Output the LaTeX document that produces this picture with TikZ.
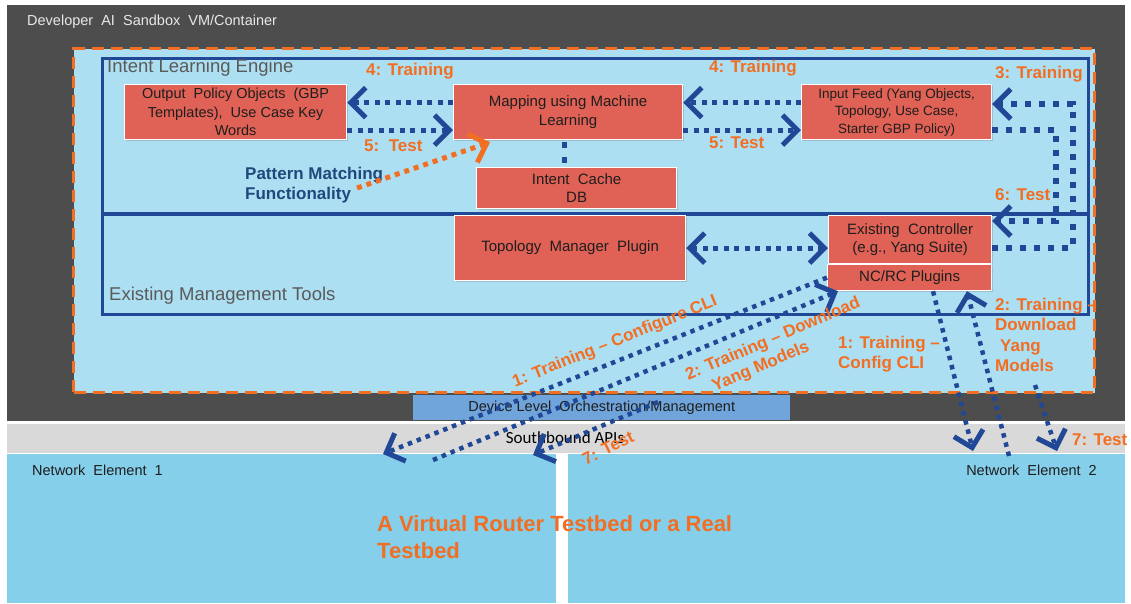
\documentclass[tikz,border=0pt]{standalone}
\usepackage{fontspec}
\setmainfont{Liberation Sans}
\newfontfamily\calfont{Carlito}
\usetikzlibrary{arrows.meta,shadows}
\definecolor{darkbg}{RGB}{77,77,77}
\definecolor{innerblue}{RGB}{173,223,242}
\definecolor{lineblue}{RGB}{33,72,150}
\definecolor{boxred}{RGB}{224,97,85}
\definecolor{orangec}{RGB}{242,110,34}
\definecolor{neblue}{RGB}{133,207,234}
\definecolor{sbgray}{RGB}{217,217,217}
\definecolor{devblue}{RGB}{112,165,220}
\definecolor{txt}{RGB}{30,30,30}
\definecolor{labgray}{RGB}{90,90,90}
\definecolor{titlegray}{RGB}{232,232,232}
\definecolor{pmblue}{RGB}{31,73,125}
\begin{document}
\begin{tikzpicture}[x=1pt,y=-1pt,
  chev/.tip={Straight Barb[length=15pt,width=30pt,line width=5pt]},
  redbox/.style={anchor=north west, fill=boxred, draw=white, line width=1.2pt, text=txt,
    align=center, inner sep=1pt, font=\fontsize{15}{18.5}\selectfont,
    drop shadow={shadow xshift=1.5pt,shadow yshift=-1.5pt,opacity=0.35}},
  container/.style={anchor=north west, draw=lineblue, line width=3pt, inner sep=0pt},
  plainbox/.style={anchor=north west, inner sep=0pt, text=txt},
  bdot/.style={draw=lineblue, line width=5pt, dash pattern=on 5pt off 5.5pt},
  ldot/.style={draw=lineblue, line width=6pt, dash pattern=on 6pt off 8pt},
  ddot/.style={draw=lineblue, line width=4.5pt, dash pattern=on 4.5pt off 5pt},
  odot/.style={draw=orangec, line width=5pt, dash pattern=on 5pt off 5pt},
  olabel/.style={text=orangec, inner sep=0pt, font=\bfseries\fontsize{17}{20.5}\selectfont},
  conlabel/.style={anchor=west, inner sep=0pt, text=labgray, font=\fontsize{18.5}{22}\selectfont},
  smalltext/.style={inner sep=0pt, text=txt, font=\fontsize{14.5}{17}\selectfont}
]
\useasboundingbox (0,0) rectangle (1131,603);
\fill[white] (0,0) rectangle (1131,603);
% background panels
\node[plainbox, fill=darkbg, minimum width=1118pt, minimum height=416pt] (sandbox) at (7,5) {};
\node[anchor=west, inner sep=0pt, text=titlegray, font=\fontsize{14.5}{17}\selectfont] (title) at (27,22) {Developer\ \ AI\ \ Sandbox\ \ VM/Container};
\node[plainbox, fill=innerblue, draw=orangec, line width=3pt, dash pattern=on 12pt off 7pt,
  minimum width=1021pt, minimum height=344pt] (dev) at (72,47) {};
\node[container, minimum width=986pt, minimum height=155pt] (ile) at (101,57) {};
\node[container, minimum width=986pt, minimum height=100pt] (emt) at (101,213) {};
\node[conlabel] (ilel) at (107,68) {Intent Learning Engine};
\node[conlabel] (emtl) at (109,296) {Existing Management Tools};
% lower strip
\node[plainbox, fill=devblue, minimum width=377pt, minimum height=25pt] (dlo) at (413,395) {};
\node[smalltext] (dlol) at (dlo.center) {Device Level\ \ Orchestration/Management};
\node[plainbox, fill=sbgray, minimum width=1118pt, minimum height=29pt] (sb) at (7,424) {};
\node[inner sep=0pt, text=black, font=\calfont\fontsize{17}{20}\selectfont] (sbl) at (565,438) {Southbound APIs};
\node[plainbox, fill=neblue, minimum width=549pt, minimum height=149pt] (ne1) at (7,454) {};
\node[plainbox, fill=neblue, minimum width=557pt, minimum height=149pt] (ne2) at (568,454) {};
\node[smalltext, anchor=west] (ne1l) at (32,470) {Network\ \ Element\ \ 1};
\node[smalltext, anchor=east] (ne2l) at (1097,470) {Network\ \ Element\ \ 2};
\node[anchor=west, align=left, inner sep=0pt, text=orangec, font=\bfseries\fontsize{22}{27}\selectfont] (tb) at (377,537) {A Virtual Router Testbed or a Real\\Testbed};
% red boxes
\node[redbox, font=\fontsize{14.5}{18.5}\selectfont, minimum width=222pt, minimum height=55pt] (out) at (124,84) {Output\ \ Policy Objects\ \ (GBP\\Templates),\ \ Use Case Key\\Words};
\node[redbox, minimum width=229pt, minimum height=55pt] (map) at (453,84) {Mapping using Machine\\Learning};
\node[redbox, minimum width=190pt, minimum height=55pt, font=\fontsize{13.5}{17.5}\selectfont] (inp) at (801,84) {Input Feed (Yang Objects,\\Topology, Use Case,\\Starter GBP Policy)};
\node[redbox, minimum width=200pt, minimum height=41pt] (cache) at (476,167) {Intent\ \ Cache\\DB};
\node[redbox, minimum width=231pt, minimum height=65pt] (topo) at (454,215) {Topology\ \ Manager\ \ Plugin};
\node[redbox, minimum width=163pt, minimum height=48pt] (ctrl) at (828,215) {Existing\ \ Controller\\(e.g., Yang Suite)};
\node[redbox, minimum width=164pt, minimum height=26pt] (ncrc) at (827,264) {NC/RC Plugins};
% pattern matching
\node[anchor=west, align=left, inner sep=0pt, text=pmblue, font=\bfseries\fontsize{17}{20.5}\selectfont] (pm) at (245,185) {Pattern Matching\\Functionality};
% arrows inside the engine
\draw[bdot, -chev] ([yshift=9.5pt]map.west) -- ([yshift=9.5pt]out.east);
\draw[bdot, -chev] ([yshift=-18pt]out.east) -- ([yshift=-18pt]map.west);
\draw[bdot, -chev] ([yshift=9.5pt]inp.west) -- ([yshift=9.5pt]map.east);
\draw[bdot, -chev] ([yshift=-18pt]map.east) -- ([yshift=-18pt]inp.west);
\draw[bdot, dash pattern=on 6pt off 9pt] ([xshift=-4pt,yshift=-2pt]map.south) -- ([xshift=-4pt]map.south |- cache.north);
\coordinate (pms) at (357,188);
\draw[odot, -chev] (pms) -- ([xshift=37pt,yshift=-2pt]map.south west);
\draw[bdot, chev-chev] (topo.east) -- (topo.east -| ctrl.west);
% loops
\coordinate (c3) at (1073,104);
\draw[ldot, -chev] ([yshift=-8pt]ctrl.east) -| (c3) -- (c3 -| inp.east);
\coordinate (c6) at (1056,221);
\draw[ldot, -chev] ([yshift=-18pt]inp.east) -| (c6) -- (c6 -| ctrl.east);
% diagonal arrows
\coordinate (t1) at (383,454);
\draw[ddot, -chev] (ncrc.west) -- (t1);
\coordinate (s2) at (433,460);
\draw[ddot, -chev] (s2) -- ([xshift=11pt]ncrc.south west);
\coordinate (s3) at (658,402);
\coordinate (t3) at (533,455);
\draw[ddot, -chev] (s3) -- (t3);
\coordinate (t4) at (973,451);
\draw[ddot, -chev] ([xshift=106pt]ncrc.south west) -- (t4);
\coordinate (s5) at (1009,456);
\draw[ddot, -chev] (s5) -- ([xshift=140pt]ncrc.south west);
\coordinate (s6) at (1035,385);
\coordinate (t6) at (1057,451);
\draw[ddot, -chev] (s6) -- (t6);
% orange labels
\node[olabel, anchor=west] (l4a) at (366,71) {4: Training};
\node[olabel, anchor=west] (l5a) at (364,146) {5:\ \ Test};
\node[olabel, anchor=west] (l4b) at (709,68) {4: Training};
\node[olabel, anchor=west] (l5b) at (709,143) {5: Test};
\node[olabel, anchor=west] (l3) at (995,74) {3: Training};
\node[olabel, anchor=west] (l6) at (995,195) {6: Test};
\node[olabel, rotate=22] (l1d) at (615,342) {1: Training – Configure CLI};
\node[olabel, rotate=23, align=left] (l2d) at (777,349) {2: Training – Download\\\hspace*{20pt}Yang Models};
\node[olabel, rotate=26] (l7d) at (608,448) {7: Test};
\node[olabel, anchor=west, align=left] (l1r) at (838,354) {1: Training –\\Config CLI};
\node[olabel, anchor=west, align=left] (l2r) at (995,335) {2: Training –\\Download\\\hspace*{5pt}Yang\\Models};
\node[olabel, anchor=west] (l7r) at (1072,440) {7: Test};
\end{tikzpicture}
\end{document}
